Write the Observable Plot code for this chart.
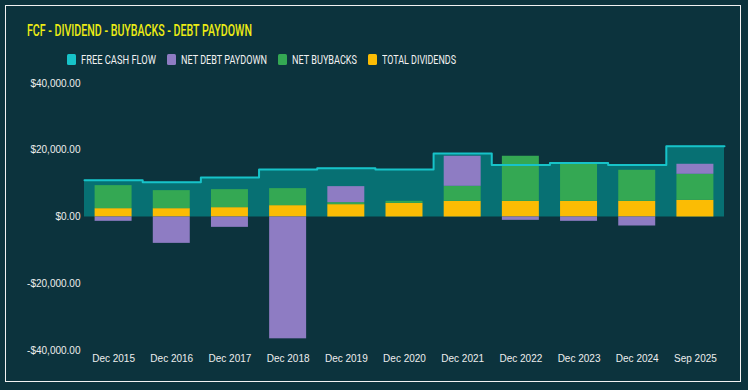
<!DOCTYPE html>
<html>
<head>
<meta charset="utf-8">
<script src="https://cdn.jsdelivr.net/npm/d3@7"></script>
<script src="https://cdn.jsdelivr.net/npm/@observablehq/plot@0.6"></script>
<style>
  html, body { margin: 0; padding: 0; background: #0c333d; }
  #wrap { position: relative; width: 748px; height: 390px; background: #0c333d; overflow: hidden; }
  #frame { position: absolute; left: 5px; top: 5px; width: 736px; height: 377px; border: 1px solid #f2f2f2; box-sizing: border-box; pointer-events: none; }
  #title { position: absolute; left: 27px; top: 20px; font-family: Roboto, sans-serif; font-weight: 500; font-size: 17px; line-height: 20px; color: #ecec14; white-space: nowrap; transform-origin: left top; }
  #legend { position: absolute; left: 67px; top: 52px; display: flex; align-items: center; font-family: Roboto, sans-serif; font-size: 13px; color: #f2f2f2; white-space: nowrap; }
  .item { display: flex; align-items: center; margin-right: 11px; }
  .sw { width: 9px; height: 11px; border-radius: 1.5px; margin-right: 5px; }
  .lab { display: inline-block; overflow: visible; }
  .lab span { display: inline-block; transform-origin: left center; }
  #chart { position: absolute; left: 0; top: 0; }
</style>
</head>
<body>
<div id="wrap">
  <div id="chart"></div>
  <div id="title">FCF - DIVIDEND - BUYBACKS - DEBT PAYDOWN</div>
  <div id="legend"></div>
  <div id="frame"></div>
</div>
<script>
const periods = ["Dec 2015","Dec 2016","Dec 2017","Dec 2018","Dec 2019","Dec 2020","Dec 2021","Dec 2022","Dec 2023","Dec 2024","Sep 2025"];
const freeCashFlow   = [11000, 10400, 11800, 14200, 14600, 14200, 19000, 15600, 16200, 15600, 21200];
const totalDividends = [2500, 2500, 2800, 3400, 3700, 4100, 4700, 4700, 4700, 4700, 5000];
const netBuybacks    = [6900, 5400, 5400, 5100, 600, 600, 4500, 13500, 11500, 9300, 7800];
const netDebtPaydown = [-1300, -7900, -3100, -36500, 4800, 0, 9000, -1000, -1300, -2700, 3000];
const yTicks = [-40000, -20000, 0, 20000, 40000];

const seriesNames = ["FREE CASH FLOW", "NET DEBT PAYDOWN", "NET BUYBACKS", "TOTAL DIVIDENDS"];
const seriesColors = ["#17c3c9", "#8e7cc3", "#34a853", "#fbbc04"];

// build tables
const barRows = [];
periods.forEach((p, i) => {
  barRows.push({i, series: "TOTAL DIVIDENDS", value: totalDividends[i]});
  barRows.push({i, series: "NET BUYBACKS", value: netBuybacks[i]});
  barRows.push({i, series: "NET DEBT PAYDOWN", value: netDebtPaydown[i]});
});
const fcfRows = freeCashFlow.map((v, i) => ({i, value: v}));
fcfRows.push({i: periods.length, value: freeCashFlow[freeCashFlow.length - 1]});

const fmt = d3.format(",.2f");
const yFmt = d => (d < 0 ? "-" : "") + "$" + fmt(Math.abs(d));

const chart = Plot.plot({
  width: 748,
  height: 390,
  marginTop: 83,
  marginBottom: 40,
  marginLeft: 84,
  marginRight: 24,
  style: {background: "transparent", fontFamily: "'Liberation Sans', Arial, sans-serif", fontSize: "10px", color: "#eeeeee"},
  x: {domain: [0, periods.length], ticks: periods.map((p, i) => i + 0.5), tickFormat: d => periods[Math.round(d - 0.5)], tickSize: 0, tickPadding: 4, label: null},
  y: {domain: [-40000, 40000], ticks: yTicks, tickFormat: yFmt, tickSize: 0, tickPadding: 4, label: null},
  color: {domain: seriesNames, range: seriesColors},
  marks: [
    Plot.areaY(fcfRows, {x: "i", y: "value", curve: "step-after", fill: "#077073"}),
    Plot.rect(barRows, Plot.stackY({
      x1: d => d.i, x2: d => d.i + 1, y: "value", fill: "series",
      order: ["TOTAL DIVIDENDS", "NET BUYBACKS", "NET DEBT PAYDOWN"],
      insetLeft: 10.6, insetRight: 10.6
    })),
    Plot.lineY(fcfRows, {x: "i", y: "value", curve: "step-after", stroke: "#17c3c9", strokeWidth: 2})
  ]
});
document.getElementById("chart").appendChild(chart);

// legend
const legend = document.getElementById("legend");
const targetW = [75, 86, 65, 74];
seriesNames.forEach((name, k) => {
  const item = document.createElement("div");
  item.className = "item";
  const sw = document.createElement("div");
  sw.className = "sw";
  sw.style.background = seriesColors[k];
  const lab = document.createElement("div");
  lab.className = "lab";
  const sp = document.createElement("span");
  sp.textContent = name;
  lab.appendChild(sp);
  item.appendChild(sw);
  item.appendChild(lab);
  legend.appendChild(item);
  const w = sp.getBoundingClientRect().width;
  const s = targetW[k] / w;
  sp.style.transform = `scaleX(${s})`;
  lab.style.width = targetW[k] + "px";
});
const title = document.getElementById("title");
const tw = title.getBoundingClientRect().width;
title.style.transform = `scaleX(${225 / tw})`;
</script>
</body>
</html>
